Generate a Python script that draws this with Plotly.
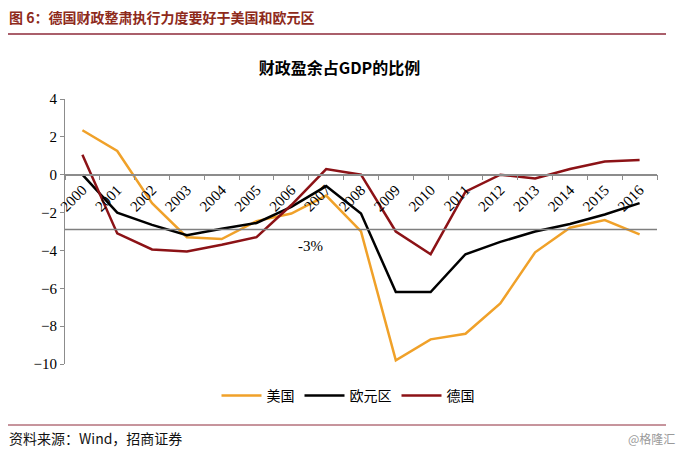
import plotly.graph_objects as go

# 财政盈余占GDP的比例 (%)
years = [str(y) for y in range(2000, 2017)]
usa = [2.35, 1.25, -1.5, -3.3, -3.4, -2.45, -2.05, -1.1, -3.0, -9.8, -8.7, -8.4, -6.8, -4.1, -2.8, -2.4, -3.15]
euro = [0.0, -2.0, -2.65, -3.2, -2.85, -2.55, -1.7, -0.6, -2.05, -6.2, -6.2, -4.2, -3.55, -3.0, -2.6, -2.1, -1.5]
germany = [1.05, -3.1, -3.95, -4.05, -3.7, -3.3, -1.6, 0.3, 0.0, -3.0, -4.2, -0.9, 0.0, -0.2, 0.3, 0.7, 0.78]
threshold = -2.9  # the "-3%" reference line as drawn

series = [('美国', usa, '#F0A129'), ('欧元区', euro, '#000000'), ('德国', germany, '#8C1216')]

W, H = 679, 452
L, R, T, B = 65, 22, 99, 88
pw, ph = W - L - R, H - T - B


def px(x):
    return (x - L) / pw


def py(y):
    return (H - B - y) / ph


fig = go.Figure()
for name, vals, col in series:
    fig.add_trace(go.Scatter(x=years, y=vals, name=name, mode='lines',
                             line=dict(color=col, width=2.5)))

fig.add_hline(y=threshold, line=dict(color='#7f7f7f', width=1.5))

serif = 'Liberation Serif, Times New Roman, serif'
cjk = 'Noto Sans CJK SC, sans-serif'

fig.update_layout(
    width=W, height=H,
    margin=dict(l=L, r=R, t=T, b=B),
    paper_bgcolor='white', plot_bgcolor='white',
    showlegend=True,
    legend=dict(orientation='h', x=px(348), xanchor='center', y=py(396), yanchor='middle',
                font=dict(family=cjk, size=14, color='#000'), itemwidth=40),
    xaxis=dict(type='category', range=[-0.5, 16.5], anchor='free', position=10 / 14,
               showline=True, linecolor='#8c8c8c', linewidth=1.5, showgrid=False,
               ticks='outside', tickson='boundaries', ticklen=5, tickcolor='#8c8c8c',
               tickangle=-45, tickfont=dict(family=serif, size=15, color='#000')),
    yaxis=dict(range=[-10, 4], dtick=2, showline=True, linecolor='#8c8c8c', linewidth=1,
               showgrid=False, zeroline=False, ticks='outside', ticklen=4, tickcolor='#8c8c8c',
               tickfont=dict(family=serif, size=15, color='#000')),
    title=dict(text='<b>财政盈余占GDP的比例</b>', x=0.5, xref='container', xanchor='center',
               y=1 - 68 / H, yref='container', yanchor='middle',
               font=dict(family='Noto Sans CJK SC, serif', size=16, color='#000')),
)

fig.add_annotation(x=px(310), y=py(246), xref='paper', yref='paper', text='-3%', showarrow=False,
                   font=dict(family=serif, size=15, color='#000'))

# header and footer
fig.add_annotation(x=px(7), y=py(17), xref='paper', yref='paper', xanchor='left', yanchor='middle',
                   text='<b>图 6：德国财政整肃执行力度要好于美国和欧元区</b>', showarrow=False,
                   font=dict(family=cjk, size=14, color='#8E2A1B'))
fig.add_shape(type='line', xref='paper', yref='paper', x0=px(8), x1=px(666), y0=py(34), y1=py(34),
              line=dict(color='#8E2A3A', width=1.5))
fig.add_shape(type='line', xref='paper', yref='paper', x0=px(8), x1=px(666), y0=py(425), y1=py(425),
              line=dict(color='#8E2A3A', width=1))
fig.add_annotation(x=px(7), y=py(438), xref='paper', yref='paper', xanchor='left', yanchor='middle',
                   text='资料来源：Wind，招商证券', showarrow=False,
                   font=dict(family=cjk, size=14, color='#111'))
fig.add_annotation(x=px(677), y=py(438), xref='paper', yref='paper', xanchor='right', yanchor='middle',
                   text='@格隆汇', showarrow=False,
                   font=dict(family=cjk, size=12, color='#9a9a9a'))

# drop the browser's default page margin so the figure sits at the window origin
fig.write_html('out.html', config={'displayModeBar': False},
               post_script="document.body.style.margin='0';")
